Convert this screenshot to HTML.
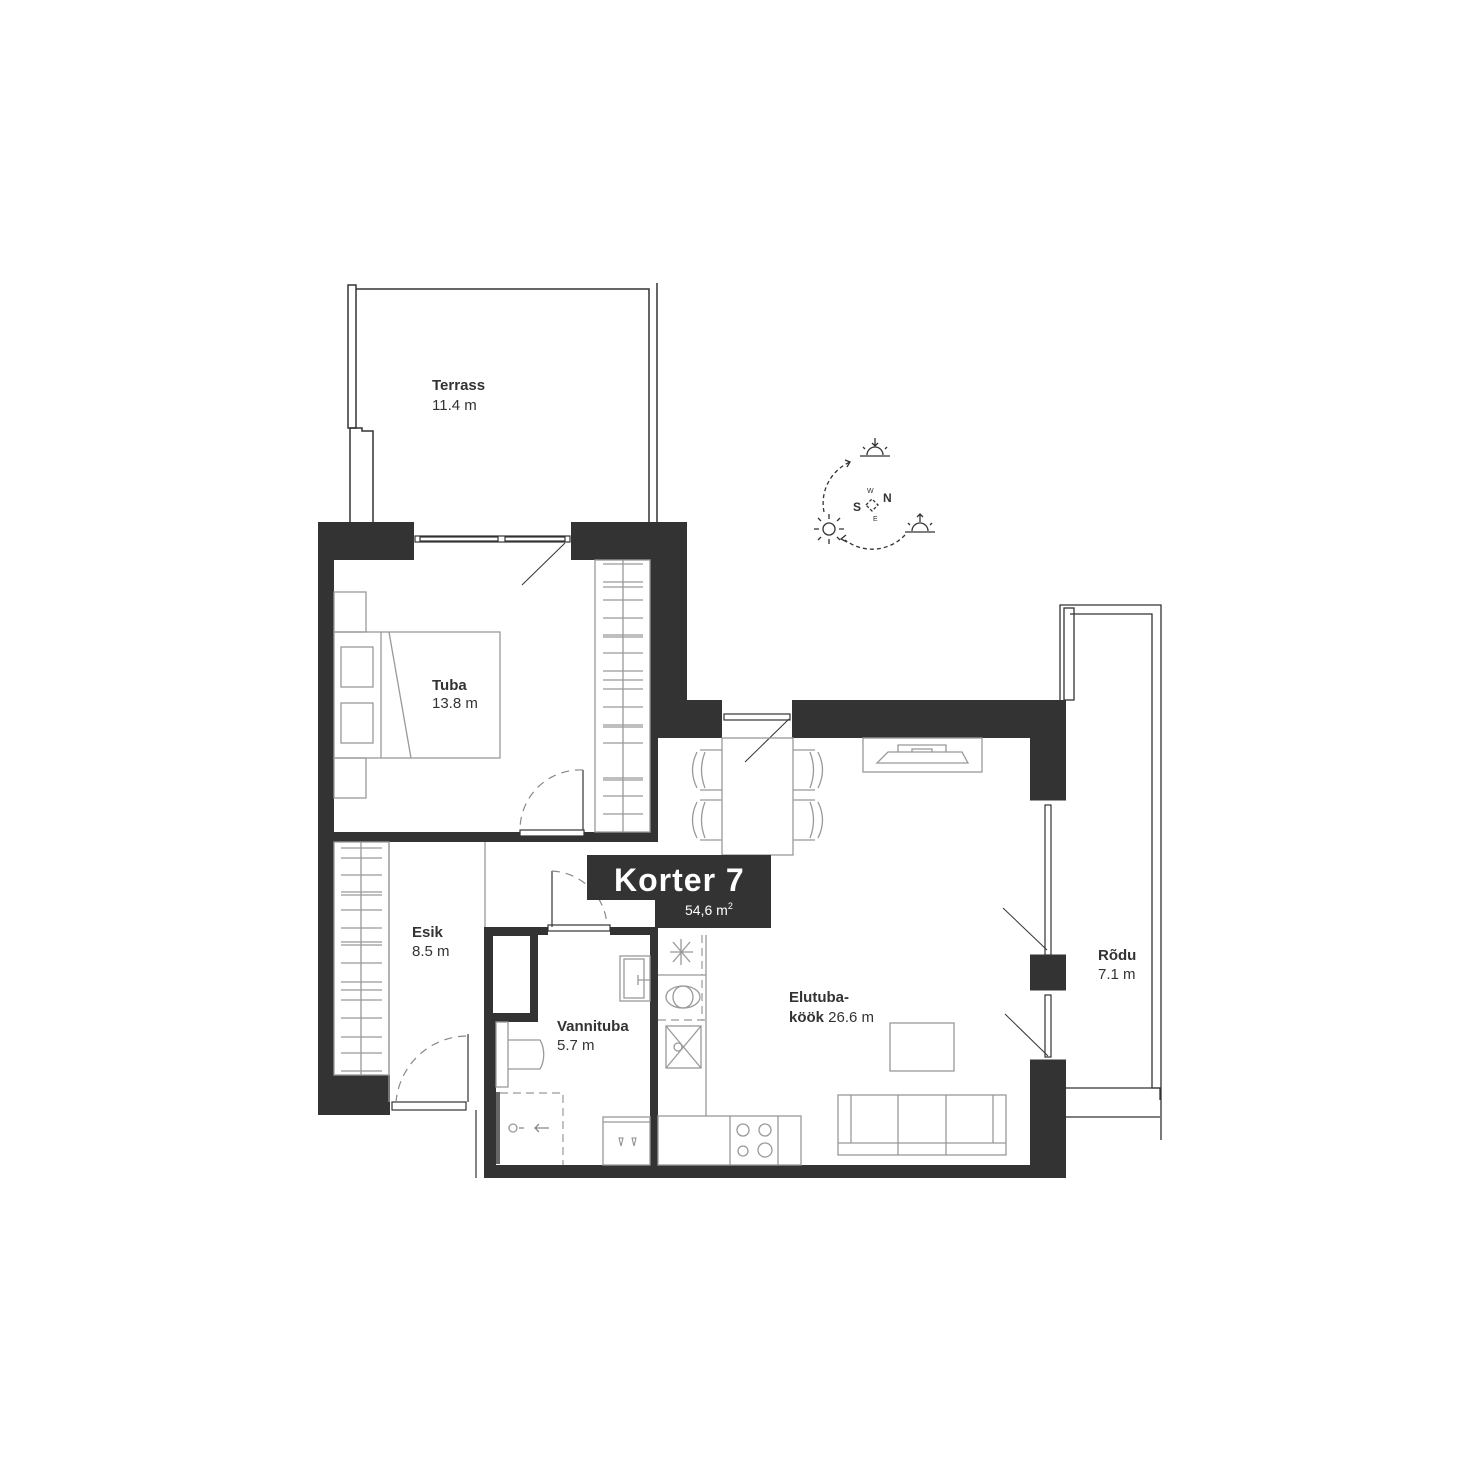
<!DOCTYPE html>
<html><head><meta charset="utf-8"><style>
html,body{margin:0;padding:0;background:#fff}
svg{display:block}
text{font-family:"Liberation Sans",sans-serif;fill:#333}
.b{font-weight:bold}
</style></head><body>
<svg width="1480" height="1480" viewBox="0 0 1480 1480" xmlns="http://www.w3.org/2000/svg">
<!-- Terrace -->
<g fill="none" stroke="#333" stroke-width="1.5">
<rect x="348" y="285" width="8" height="143"/>
<path d="M356 289 H649 V522"/>
<path d="M657 283 V522"/>
<path d="M350 428 V522 M350 428 H362 V431 H373 V522"/>
</g>
<text x="432" y="390" class="b" font-size="15">Terrass</text>
<text x="432" y="410" font-size="15">11.4 m</text>

<!-- Rodu -->
<g fill="none" stroke="#333" stroke-width="1.3">
<path d="M1060 700 V605 H1161 V1140"/>
<rect x="1064" y="608" width="10" height="92"/>
<path d="M1070 614 H1152 V1088 H1160 V1100"/>
<path d="M1066 1088 H1160 M1066 1117 H1160"/>
</g>
<text x="1098" y="960" class="b" font-size="15">Rõdu</text>
<text x="1098" y="979" font-size="15">7.1 m</text>

<!-- Walls -->
<g fill="#333">
<rect x="318" y="522" width="96" height="38"/>
<rect x="571" y="522" width="116" height="38"/>
<rect x="318" y="522" width="16" height="316"/>
<rect x="650" y="522" width="37" height="178"/>
<rect x="650" y="700" width="8" height="142"/>
<rect x="650" y="700" width="72" height="38"/>
<rect x="792" y="700" width="274" height="38"/>
<rect x="1030" y="700" width="36" height="100"/>
<rect x="1030" y="955" width="36" height="35"/>
<rect x="1030" y="1060" width="36" height="118"/>
<rect x="318" y="832" width="340" height="10"/>
<rect x="318" y="838" width="16" height="277"/>
<rect x="318" y="1075" width="72" height="40"/>
<rect x="484" y="927" width="64" height="8"/>
<rect x="610" y="927" width="48" height="8"/>
<rect x="484" y="927" width="12" height="251"/>
<rect x="484" y="927" width="54" height="95"/>
<rect x="650" y="927" width="8" height="251"/>
<rect x="484" y="1165" width="582" height="13"/>
</g>
<rect x="493" y="936" width="37" height="77" fill="#fff"/>

<!-- windows -->
<g fill="#fff" stroke="#333" stroke-width="1.2">
<rect x="415" y="536" width="155" height="6"/>
<rect x="420" y="537" width="78" height="4"/>
<rect x="505" y="537" width="60" height="4"/>
<rect x="724" y="714" width="66" height="6"/>
<rect x="1045" y="805" width="6" height="150"/>
<rect x="1045" y="995" width="6" height="62"/>
<rect x="520" y="830" width="64" height="6"/>
<rect x="548" y="925" width="62" height="6"/>
<rect x="392" y="1102" width="74" height="8"/>
</g>
<g stroke="#333" stroke-width="1" fill="none">
<line x1="522" y1="585" x2="565" y2="543"/>
<line x1="745" y1="762" x2="789" y2="719"/>
<line x1="1003" y1="908" x2="1047" y2="950"/>
<line x1="1005" y1="1014" x2="1048" y2="1056"/>
<line x1="1030" y1="800" x2="1066" y2="800"/><line x1="1030" y1="955" x2="1066" y2="955"/>
<line x1="1030" y1="990" x2="1066" y2="990"/><line x1="1030" y1="1060" x2="1066" y2="1060"/>
</g>

<!-- Tuba furniture -->
<g fill="none" stroke="#999" stroke-width="1.3">
<rect x="334" y="592" width="32" height="40"/>
<rect x="334" y="758" width="32" height="40"/>
<rect x="334" y="632" width="166" height="126"/>
<line x1="381" y1="632" x2="381" y2="758"/>
<line x1="389" y1="632" x2="411" y2="758"/>
<rect x="341" y="647" width="32" height="40"/>
<rect x="341" y="703" width="32" height="40"/>
<rect x="595" y="560" width="55" height="272"/>
<line x1="623" y1="560" x2="623" y2="832"/>
<path d="M603 564H643M603 582H643M603 587H643M603 600H643M603 618H643M603 635H643M603 637H643M603 653H643M603 671H643M603 680H643M603 689H643M603 707H643M603 725H643M603 727H643M603 743H643M603 778H643M603 780H643M603 796H643M603 814H643"/>
<line x1="485" y1="842" x2="485" y2="927"/>
<rect x="334" y="842" width="55" height="233"/>
<line x1="361" y1="842" x2="361" y2="1075"/>
<path d="M341 848H382M341 858H382M341 875H382M341 892H382M341 895H382M341 910H382M341 928H382M341 942H382M341 945H382M341 963H382M341 982H382M341 990H382M341 1000H382M341 1018H382M341 1037H382M341 1053H382M341 1071H382"/>
<line x1="389" y1="842" x2="389" y2="1102"/>
</g>
<g fill="none" stroke="#333" stroke-width="1.2">
<line x1="583" y1="770" x2="583" y2="830"/>
<line x1="468" y1="1034" x2="468" y2="1102"/>
<line x1="552" y1="871" x2="552" y2="927"/>
<path d="M476 1110 V1178"/>
</g>
<g fill="none" stroke="#888" stroke-width="1.2" stroke-dasharray="8 6">
<path d="M583 770 A60 60 0 0 0 520 830"/>
<path d="M466 1036 A72 72 0 0 0 396 1102"/>
<path d="M552 871 A58 58 0 0 1 607 925"/>
</g>
<text x="412" y="937" class="b" font-size="15">Esik</text>
<text x="412" y="956" font-size="15">8.5 m</text>
<text x="432" y="690" class="b" font-size="15">Tuba</text>
<text x="432" y="708" font-size="15">13.8 m</text>

<!-- Living room furniture -->
<g fill="none" stroke="#999" stroke-width="1.3">
<rect x="722" y="738" width="71" height="117"/>
<rect x="863" y="738" width="119" height="34"/>
<path d="M877 763 L888 752 H962 L968 763 Z M898 752 V745 H946 V752 M912 752 V749 H932 V752"/>
<path d="M700 750 H722 M700 790 H722 M697 752 Q688 770 697 788 M705 752 Q698 770 705 788"/>
<path d="M700 800 H722 M700 840 H722 M697 802 Q688 820 697 838 M705 802 Q698 820 705 838"/>
<path d="M793 750 H815 M793 790 H815 M818 752 Q827 770 818 788 M810 752 Q817 770 810 788"/>
<path d="M793 800 H815 M793 840 H815 M818 802 Q827 820 818 838 M810 802 Q817 820 810 838"/>
<rect x="890" y="1023" width="64" height="48"/>
<rect x="838" y="1095" width="168" height="60"/>
<line x1="851" y1="1095" x2="851" y2="1143"/><line x1="993" y1="1095" x2="993" y2="1143"/>
<line x1="838" y1="1143" x2="1006" y2="1143"/>
<line x1="898" y1="1095" x2="898" y2="1155"/><line x1="946" y1="1095" x2="946" y2="1155"/>
<line x1="706" y1="935" x2="706" y2="1116"/>
<rect x="658" y="1116" width="143" height="49"/>
<line x1="730" y1="1116" x2="730" y2="1165"/><line x1="778" y1="1116" x2="778" y2="1165"/>
<circle cx="743" cy="1130" r="6"/><circle cx="765" cy="1130" r="6"/>
<circle cx="743" cy="1151" r="5"/><circle cx="765" cy="1150" r="7"/>
<line x1="658" y1="975" x2="706" y2="975"/>
<rect x="666" y="1026" width="35" height="42"/>
<path d="M666 1026 L701 1068 M701 1026 L666 1068"/>
<circle cx="678" cy="1047" r="4"/>
<path d="M673 942 L690 962 M690 942 L673 962 M681 939 V965 M670 952 H693"/>
<ellipse cx="683" cy="997" rx="17" ry="11"/>
<ellipse cx="683" cy="997" rx="10" ry="11"/>
<rect x="496" y="1022" width="12" height="65"/>
<path d="M508 1040 H540 A15 22 0 0 1 540 1069 H508"/>
<rect x="620" y="956" width="30" height="45"/><rect x="624" y="959" width="20" height="39"/>
<path d="M638 980 H650 M638 975 V985"/>
<rect x="603" y="1117" width="47" height="48"/>
<line x1="603" y1="1122" x2="650" y2="1122"/>
<path d="M519 1128 H524 M536 1128 H549 M539 1124 L535 1128 L539 1132" stroke="#888"/>
<circle cx="513" cy="1128" r="4"/>
</g>
<rect x="496" y="1092" width="4" height="72" fill="#666"/>
<g fill="none" stroke="#999" stroke-width="1.2" stroke-dasharray="8 5">
<path d="M500 1093 H563 V1165"/>
<path d="M702 935 V975 M702 980 V1020 M658 1020 H706"/>
</g>
<path d="M619 1138 l2 8 l2 -8 Z M632 1138 l2 8 l2 -8 Z" fill="none" stroke="#888"/>
<text x="557" y="1031" class="b" font-size="15">Vannituba</text>
<text x="557" y="1050" font-size="15">5.7 m</text>
<text x="789" y="1002" class="b" font-size="15">Elutuba-</text>
<text x="789" y="1003" font-size="15" dy="19"><tspan font-weight="bold">köök</tspan> 26.6 m</text>

<!-- Korter label -->
<rect x="587" y="855" width="184" height="45" fill="#333"/>
<rect x="655" y="898" width="116" height="30" fill="#333"/>
<text x="614" y="891" font-size="32" font-weight="bold" letter-spacing="1" style="fill:#fff">Korter 7</text>
<text x="685" y="915" font-size="14" style="fill:#fff">54,6 m<tspan font-size="9" dy="-6">2</tspan></text>

<!-- compass -->
<g fill="none" stroke="#333" stroke-width="1.3">
<path d="M824 512 A45 45 0 0 1 850 462" stroke-dasharray="4 3"/>
<path d="M845 460 L850 462 L847 467"/>
<path d="M905 535 A45 45 0 0 1 845 540" stroke-dasharray="4 3"/>
<path d="M846 535 L841 539 L847 542"/>
<circle cx="829" cy="529" r="6"/>
<path d="M819 529h-5 M839 529h5 M829 519v-5 M829 539v5 M821 521l-3-3 M837 521l3-3 M821 537l-3 3 M837 537l3 3"/>
<path d="M860 456 H890 M867 455 A8 8 0 0 1 883 455 M875 438v8 M872 443 l3 3 l3 -3 M863 447 l2 2 M887 447 l-2 2"/>
<path d="M905 532 H935 M912 531 A8 8 0 0 1 928 531 M920 514v8 M917 517 l3 -3 l3 3 M908 523 l2 2 M932 523 l-2 2"/>
<path d="M866 505 l6 -6 l6 6 l-6 6 Z" stroke-dasharray="3 2"/>
</g>
<text x="853" y="511" font-size="12" font-weight="bold">S</text>
<text x="883" y="502" font-size="12" font-weight="bold">N</text>
<text x="867" y="493" font-size="7">W</text>
<text x="873" y="521" font-size="7">E</text>
</svg>
</body></html>
